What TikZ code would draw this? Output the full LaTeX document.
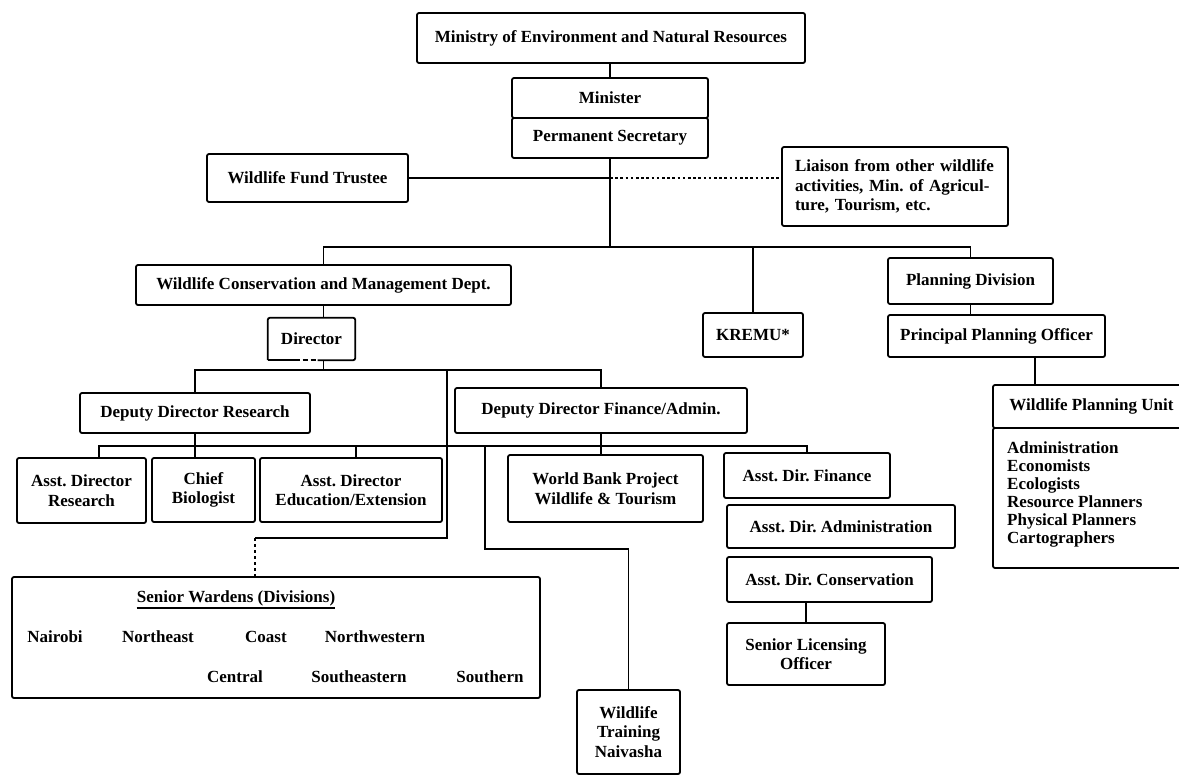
\documentclass[tikz,border=0pt]{standalone}
\usepackage{fontspec}
\setmainfont{Liberation Serif}
\newcommand\orgfont{\bfseries\fontsize{17}{19.5}\selectfont\frenchspacing}
\begin{document}
\begin{tikzpicture}[x=1pt,y=-1pt,
		orgbox/.style={draw,line width=1.8pt,rounded corners=2pt,font=\orgfont,align=center,inner sep=0pt},
		orgtxt/.style={font=\orgfont,inner sep=0pt},
		orgln/.style={line width=1.5pt},
		orgdots/.style={line width=2.6pt,dash pattern=on 2.6pt off 2.6pt}]
			\useasboundingbox (0,0) rectangle (1179,776);
			\node[orgbox,minimum width=388,minimum height=50] (ministry) at (611,38) {Ministry of Environment and Natural Resources};
			\node[orgbox,minimum width=196,minimum height=40] (minister) at (610,98) {Minister};
			\node[orgbox,minimum width=196,minimum height=40] (permsec) at (610,138) {Permanent Secretary};
			\node[orgbox,minimum width=201,minimum height=48] (fund) at (307.5,178) {Wildlife Fund Trustee};
			\node[orgbox,minimum width=226,minimum height=79,text width=200,align=left] (liaison) at (895,186.5) {Liaison from other wildlife\\activities, Min. of Agricul-\\ture, Tourism, etc.};
			\node[orgbox,minimum width=375,minimum height=40] (wcmd) at (323.5,285) {Wildlife Conservation and Management Dept.};
			\node[orgtxt,minimum width=87,minimum height=42] (director) at (311.5,339) {Director};
			\node[orgbox,minimum width=100,minimum height=44] (kremu) at (753,335) {KREMU*};
			\node[orgbox,minimum width=165,minimum height=46] (plandiv) at (970.5,281) {Planning Division};
			\node[orgbox,minimum width=217,minimum height=42] (ppo) at (996.5,336) {Principal Planning Officer};
			\node[orgbox,minimum width=230,minimum height=40] (ddr) at (195,413) {Deputy Director Research};
			\node[orgbox,minimum width=292,minimum height=45] (ddf) at (601,410.5) {Deputy Director Finance/Admin.};
			\node[orgbox,minimum width=129,minimum height=65] (adr) at (81.5,490.5) {Asst. Director\\Research};
			\node[orgbox,minimum width=103,minimum height=64] (chiefbio) at (203.5,490) {Chief\\Biologist};
			\node[orgbox,minimum width=182,minimum height=64] (adee) at (351,490) {Asst. Director\\Education/Extension};
			\node[orgbox,minimum width=195,minimum height=67] (worldbank) at (605.5,488.5) {World Bank Project\\Wildlife \& Tourism};
			\node[orgbox,minimum width=166,minimum height=45] (adfin) at (807,475.5) {Asst. Dir. Finance};
			\node[orgbox,minimum width=228,minimum height=43] (adadm) at (841,526.5) {Asst. Dir. Administration};
			\node[orgbox,minimum width=205,minimum height=45] (adcons) at (829.5,579.5) {Asst. Dir. Conservation};
			\node[orgbox,minimum width=158,minimum height=62] (licensing) at (806,654) {Senior Licensing\\Officer};
			\node[orgbox,minimum width=103,minimum height=84] (training) at (628.5,732) {Wildlife\\Training\\Naivasha};
			\node[orgbox,minimum width=197,minimum height=43] (wpuhead) at (1091.5,406.5) {Wildlife Planning Unit};
			\node[orgbox,minimum width=197,minimum height=140] (wpubody) at (1091.5,498) {};
			\node[orgtxt,anchor=base west] (wpua) at (1007,453) {Administration};
			\node[orgtxt,anchor=base west] (wpub) at (1007,471) {Economists};
			\node[orgtxt,anchor=base west] (wpuc) at (1007,489) {Ecologists};
			\node[orgtxt,anchor=base west] (wpud) at (1007,507) {Resource Planners};
			\node[orgtxt,anchor=base west] (wpue) at (1007,525) {Physical Planners};
			\node[orgtxt,anchor=base west] (wpuf) at (1007,543) {Cartographers};
			\node[orgbox,minimum width=528,minimum height=121] (wardens) at (276,637.5) {};
			\node[orgtxt] (swtitle) at (236,598) {Senior Wardens (Divisions)};
			\node[orgtxt] (swa) at (55,637) {Nairobi};
			\node[orgtxt] (swb) at (158,637) {Northeast};
			\node[orgtxt] (swc) at (266,637) {Coast};
			\node[orgtxt] (swd) at (375,637) {Northwestern};
			\node[orgtxt] (swe) at (235,677) {Central};
			\node[orgtxt] (swf) at (359,677) {Southeastern};
			\node[orgtxt] (swg) at (490,677) {Southern};
			\draw[orgln] ([yshift=-2pt]swtitle.south west) -- ([yshift=-2pt]swtitle.south east);
			\draw[line width=1.8pt] (director.south west) -- ([xshift=-17pt]director.south);
			\draw[line width=1.8pt,dash pattern=on 5pt off 3pt] ([xshift=-17pt]director.south) -- ([xshift=6pt]director.south);
			\draw[line width=1.8pt,rounded corners=2pt] ([xshift=6pt]director.south) -| (director.north east) -| (director.south west);
			\coordinate (busa) at (610,247);
			\coordinate (busb) at (323.5,370);
			\coordinate (busd) at (99,446);
			\coordinate (busv) at (447,538);
			\coordinate (swdrop) at (255,538);
			\coordinate (wtknee) at (485,549);
			\draw[orgln] (minister.north |- ministry.south) -- (minister.north);
			\draw[orgln] (permsec.south) -- (busa);
			\draw[orgln] (wcmd.north) |- (busa) -| (plandiv.north);
			\draw[orgln] (kremu.north) -- (kremu.north |- busa);
			\draw[orgln] (fund.east) -- (fund.east -| permsec.south);
			\draw[orgdots] (fund.east -| permsec.south) -- (fund.east -| liaison.west);
			\draw[orgln] (wcmd.south) -- (wcmd.south |- director.north);
			\draw[orgln] (director.south -| busb) -- (busb);
			\draw[orgln] (ddr.north) |- (busb) -| (ddf.north);
			\draw[orgln] (busb -| busv) -- (busv) -- (swdrop);
			\draw[orgln,dashed] (swdrop) -- (swdrop |- wardens.north);
			\draw[orgln] (ddr.south) -- (ddr.south |- chiefbio.north);
			\draw[orgln] (busd |- adr.north) -- (busd) -| (adfin.north);
			\draw[orgln] ([xshift=5pt]adee.north) -- ([xshift=5pt]adee.north |- busd);
			\draw[orgln] (ddf.south) -- (ddf.south |- worldbank.north);
			\draw[orgln] (wtknee |- busd) -- (wtknee) -| (training.north);
			\draw[orgln] (adcons.south -| licensing.north) -- (licensing.north);
			\draw[orgln] (plandiv.south) -- (plandiv.south |- ppo.north);
			\draw[orgln] ([xshift=38.5pt]ppo.south) -- ([xshift=38.5pt]ppo.south |- wpuhead.north);
		\end{tikzpicture}
\end{document}
